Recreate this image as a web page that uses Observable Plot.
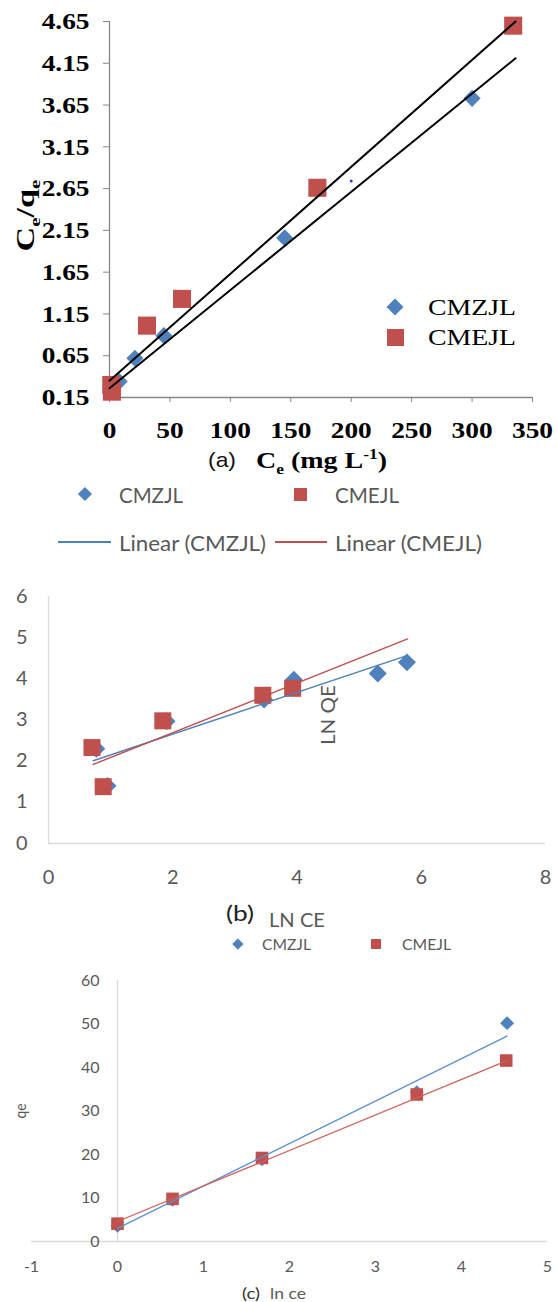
<!DOCTYPE html>
<html><head><meta charset="utf-8">
<script src="https://cdn.jsdelivr.net/npm/d3@7"></script>
<script src="https://cdn.jsdelivr.net/npm/@observablehq/plot@0.6"></script>
<style>
body{margin:0;background:#fff;}
#root{position:relative;width:558px;height:1302px;overflow:hidden;background:#fff;}
#root svg.plotsvg{position:absolute;left:0;}
.lbl{position:absolute;white-space:nowrap;line-height:1;}
.lbl sub,.lbl sup{font-size:0.62em;line-height:0;}
.sym{position:absolute;}
</style></head><body><div id="root"></div>
<script>
// ---------- data: panel (a) Langmuir ----------
const seriesNames = ["CMZJL", "CMEJL"];
const trendNames = ["Linear (CMZJL)", "Linear (CMEJL)"];
const aTicksX = [0, 50, 100, 150, 200, 250, 300, 350];
const aTicksY = [0.15, 0.65, 1.15, 1.65, 2.15, 2.65, 3.15, 3.65, 4.15, 4.65];
const aZjlCe = [1, 8, 21, 45, 145, 300];
const aZjlRatio = [0.25, 0.34, 0.62, 0.89, 2.06, 3.73];
const aEjlCe = [1.5, 2, 31, 60, 172, 334];
const aEjlRatio = [0.30, 0.22, 1.01, 1.33, 2.66, 4.60];
const aStrayCe = [200];
const aStrayRatio = [2.74];
const aFitCe = [0, 336];
const aZjlFit = [0.26, 4.21];
const aEjlFit = [0.35, 4.65];

// ---------- data: panel (b) Freundlich ----------
const bTicksX = [0, 2, 4, 6, 8];
const bTicksY = [0, 1, 2, 3, 4, 5, 6];
const bZjlLnCe = [0.77, 0.95, 1.90, 3.47, 3.95, 5.30, 5.77];
const bZjlLnQe = [2.30, 1.40, 2.97, 3.50, 3.98, 4.13, 4.40];
const bEjlLnCe = [0.70, 0.88, 1.84, 3.45, 3.93];
const bEjlLnQe = [2.33, 1.38, 2.98, 3.60, 3.77];
const bFitLnCe = [0.72, 5.78];
const bZjlFit = [2.01, 4.57];
const bEjlFit = [1.92, 4.97];

// ---------- data: panel (c) Temkin ----------
const cTicksX = [-1, 0, 1, 2, 3, 4, 5];
const cTicksY = [0, 10, 20, 30, 40, 50, 60];
const cZjlLnCe = [0, 0.64, 1.68, 3.48, 4.53];
const cZjlQe = [3.6, 9.6, 18.9, 34.3, 50.2];
const cEjlLnCe = [0, 0.64, 1.68, 3.48, 4.52];
const cEjlQe = [4.1, 9.8, 19.2, 33.8, 41.6];
const cFitLnCe = [0, 4.53];
const cZjlFit = [3.0, 47.2];
const cEjlFit = [4.6, 41.6];

// ---------- helpers ----------
const BLUE = "#4f81bd", RED = "#c0504d", GREY = "#595959", AXG = "#d9d9d9";
const SERIF = "'Liberation Serif','Times New Roman',serif";
const SANS = "Lato,'Noto Sans',sans-serif";
const ARIAL = "'Liberation Sans',Arial,sans-serif";
const root = document.getElementById("root");
const zip = (xs, ys) => xs.map((x, i) => ({x, y: ys[i]}));

function mount(svg, top, stretch) {
  svg.classList.add("plotsvg");
  svg.style.top = top + "px";
  root.appendChild(svg);
  if (stretch && stretch !== 1) {
    svg.querySelectorAll("text").forEach(t => {
      const x = +(t.getAttribute("x") || 0);
      const tr = t.getAttribute("transform") || "";
      t.setAttribute("transform", `${tr} translate(${x},0) scale(${stretch},1) translate(${-x},0)`);
    });
  }
}
function label(html, {x, cy, size, family, weight = "normal", color = "#000", w = null}) {
  const d = document.createElement("div");
  d.className = "lbl";
  d.innerHTML = html;
  Object.assign(d.style, {fontFamily: family, fontSize: size + "px", fontWeight: weight, color, left: x + "px", top: "0px"});
  root.appendChild(d);
  const r = d.getBoundingClientRect();
  const s = w ? w / r.width : 1;
  d.style.top = (cy - r.height / 2) + "px";
  d.style.transformOrigin = "left center";
  d.style.transform = `scaleX(${s})`;
  return d;
}
function vlabel(html, {cx, cy, size, family, weight = "normal", color = "#000", len = null}) {
  const d = document.createElement("div");
  d.className = "lbl";
  d.innerHTML = html;
  Object.assign(d.style, {fontFamily: family, fontSize: size + "px", fontWeight: weight, color, left: "0px", top: "0px"});
  root.appendChild(d);
  const r = d.getBoundingClientRect();
  const s = len ? len / r.width : 1;
  d.style.left = (cx - r.width / 2) + "px";
  d.style.top = (cy - r.height / 2) + "px";
  d.style.transformOrigin = "center center";
  d.style.transform = `rotate(-90deg) scaleX(${s})`;
}
function square(cx, cy, size, color) {
  const d = document.createElement("div"); d.className = "sym";
  Object.assign(d.style, {left: (cx - size / 2) + "px", top: (cy - size / 2) + "px", width: size + "px", height: size + "px", background: color});
  root.appendChild(d);
}
function diamond(cx, cy, diag, color) {
  const a = diag / Math.SQRT2;
  const d = document.createElement("div"); d.className = "sym";
  Object.assign(d.style, {left: (cx - a / 2) + "px", top: (cy - a / 2) + "px", width: a + "px", height: a + "px", background: color, transform: "rotate(45deg)"});
  root.appendChild(d);
}
function hline(x1, x2, cy, color, t = 2) {
  const d = document.createElement("div"); d.className = "sym";
  Object.assign(d.style, {left: x1 + "px", top: (cy - t / 2) + "px", width: (x2 - x1) + "px", height: t + "px", background: color});
  root.appendChild(d);
}

// ---------- panel (a) ----------
const plotA = Plot.plot({
  width: 558, height: 480,
  marginTop: 21, marginBottom: 83, marginLeft: 109, marginRight: 26,
  x: {domain: [0, 350]},
  y: {domain: [0.15, 4.65]},
  style: {fontFamily: SERIF, fontSize: "24px", fontWeight: "bold", color: "#000", background: "transparent", overflow: "visible"},
  marks: [
    Plot.ruleX([0], {stroke: "#868686", strokeWidth: 1.3}),
    Plot.ruleY([0.15], {stroke: "#868686", strokeWidth: 1.3}),
    Plot.axisX({ticks: aTicksX, tickSize: 5, tickPadding: 18, stroke: "#868686", tickFormat: d => String(d), label: null}),
    Plot.axisY({ticks: aTicksY, tickSize: 6, tickPadding: 14, stroke: "#868686", tickFormat: d => d.toFixed(2), label: null}),
    Plot.dot(zip(aZjlCe, aZjlRatio), {x: "x", y: "y", symbol: "diamond2", r: 7.7, fill: BLUE}),
    Plot.dot(zip(aEjlCe, aEjlRatio), {x: "x", y: "y", symbol: "square", r: 10.2, fill: RED}),
    Plot.dot(zip(aStrayCe, aStrayRatio), {x: "x", y: "y", r: 1.5, fill: "#2a3cff"}),
    Plot.line(zip(aFitCe, aZjlFit), {x: "x", y: "y", stroke: "#000", strokeWidth: 2}),
    Plot.line(zip(aFitCe, aEjlFit), {x: "x", y: "y", stroke: "#000", strokeWidth: 2})
  ]
});
mount(plotA, 0, 1.14);

vlabel("C<sub>e</sub>/q<sub>e</sub>", {cx: 25, cy: 215, size: 25, family: SERIF, weight: "bold", len: 72});
label("(a)", {x: 208, cy: 459, size: 21, family: ARIAL, color: "#111", w: 28});
label("C<sub>e</sub> (mg L<sup>-1</sup>)", {x: 256, cy: 460, size: 24, family: SERIF, weight: "bold", w: 131});
// legend inside (a)
diamond(395, 307, 17, BLUE);
label(seriesNames[0], {x: 428, cy: 307, size: 24, family: SERIF, w: 88});
square(395, 337, 17, RED);
label(seriesNames[1], {x: 428, cy: 337, size: 24, family: SERIF, w: 88});
// legend below (a)
diamond(85, 494, 14, BLUE);
label(seriesNames[0], {x: 119, cy: 494, size: 21, family: SANS, color: GREY, w: 64});
square(300, 494, 13, RED);
label(seriesNames[1], {x: 335, cy: 494, size: 21, family: SANS, color: GREY, w: 64});
hline(58, 111, 542, BLUE, 2);
label(trendNames[0], {x: 119, cy: 542, size: 21, family: SANS, color: GREY, w: 147});
hline(275, 327, 542, RED, 2);
label(trendNames[1], {x: 335, cy: 542, size: 21, family: SANS, color: GREY, w: 147});

// ---------- panel (b) ----------
const plotB = Plot.plot({
  width: 558, height: 320,
  marginTop: 16, marginBottom: 57, marginLeft: 48, marginRight: 13,
  x: {domain: [0, 8]},
  y: {domain: [0, 6]},
  style: {fontFamily: SANS, fontSize: "19px", color: GREY, background: "transparent", overflow: "visible"},
  marks: [
    Plot.ruleX([0], {stroke: AXG, strokeWidth: 1.3}),
    Plot.ruleY([0], {stroke: AXG, strokeWidth: 1.3}),
    Plot.axisX({ticks: bTicksX, tickSize: 0, tickPadding: 27, tickFormat: d => String(d), label: null}),
    Plot.axisY({ticks: bTicksY, tickSize: 0, tickPadding: 21, tickFormat: d => String(d), label: null}),
    Plot.dot(zip(bZjlLnCe, bZjlLnQe), {x: "x", y: "y", symbol: "diamond2", r: 8.1, fill: BLUE}),
    Plot.dot(zip(bEjlLnCe, bEjlLnQe), {x: "x", y: "y", symbol: "square", r: 9.6, fill: RED}),
    Plot.line(zip(bFitLnCe, bZjlFit), {x: "x", y: "y", stroke: BLUE, strokeWidth: 1.4}),
    Plot.line(zip(bFitLnCe, bEjlFit), {x: "x", y: "y", stroke: RED, strokeWidth: 1.4})
  ]
});
mount(plotB, 580, 1.05);

vlabel("LN QE", {cx: 327, cy: 715, size: 20, family: SANS, color: GREY, len: 60});
label("(b)", {x: 226, cy: 913, size: 22, family: SANS, color: "#222", w: 28});
label("LN CE", {x: 269, cy: 919, size: 20, family: SANS, color: GREY, w: 56});
diamond(238, 944, 11, BLUE);
label(seriesNames[0], {x: 262, cy: 944, size: 16, family: SANS, color: GREY, w: 49});
square(376, 944, 10, RED);
label(seriesNames[1], {x: 402, cy: 944, size: 16, family: SANS, color: GREY, w: 49});

// ---------- panel (c) ----------
const plotC = Plot.plot({
  width: 558, height: 342,
  marginTop: 20, marginBottom: 61, marginLeft: 31, marginRight: 11,
  x: {domain: [-1, 5]},
  y: {domain: [0, 60], axis: null},
  style: {fontFamily: SANS, fontSize: "16px", color: GREY, background: "transparent", overflow: "visible"},
  marks: [
    Plot.ruleX([0], {stroke: AXG, strokeWidth: 1.3}),
    Plot.ruleY([0], {stroke: AXG, strokeWidth: 1.3}),
    Plot.axisX({ticks: cTicksX, tickSize: 0, tickPadding: 19, tickFormat: d => String(d), label: null}),
    Plot.text(cTicksY, {x: () => 0, y: d => d, text: d => String(d), dx: -18, textAnchor: "end", fill: GREY}),
    Plot.dot(zip(cZjlLnCe, cZjlQe), {x: "x", y: "y", symbol: "diamond2", r: 6.3, fill: BLUE}),
    Plot.dot(zip(cEjlLnCe, cEjlQe), {x: "x", y: "y", symbol: "square", r: 7.1, fill: RED}),
    Plot.line(zip(cFitLnCe, cZjlFit), {x: "x", y: "y", stroke: "#5b8fd0", strokeWidth: 1.3}),
    Plot.line(zip(cFitLnCe, cEjlFit), {x: "x", y: "y", stroke: "#d0605c", strokeWidth: 1.3})
  ]
});
mount(plotC, 960, 1.0);

vlabel("qe", {cx: 20, cy: 1111, size: 16, family: SANS, color: GREY, len: 15});
label("(c)", {x: 242, cy: 1293, size: 16, family: SANS, color: "#333", w: 18});
label("ln ce", {x: 270, cy: 1293, size: 16, family: SANS, color: GREY, w: 36});
</script></body></html>
